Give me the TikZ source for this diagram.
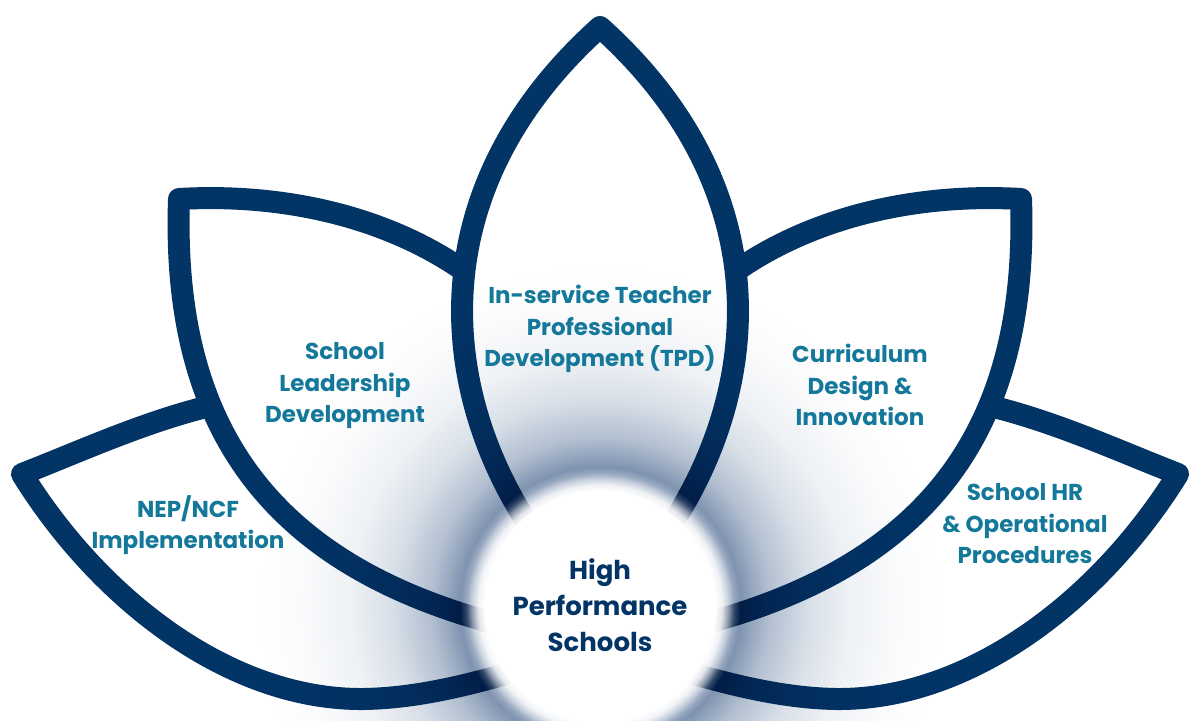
\documentclass[tikz,border=0pt]{standalone}
\usepackage{fontspec}
\setmainfont{Poppins}
\definecolor{navy}{HTML}{033466}
\definecolor{petalink}{HTML}{14789B}
\definecolor{glowA}{HTML}{7F93B0}
\definecolor{glowB}{HTML}{B3C0D1}
\definecolor{glowC}{HTML}{D9E0E8}
\definecolor{glowD}{HTML}{EEF1F5}
\definecolor{glowE}{HTML}{FAFBFC}
\definecolor{haloA}{HTML}{E0E0E0}
\definecolor{haloB}{HTML}{909090}
\definecolor{haloC}{HTML}{303030}
%glow round the core, 1bp = 36pt on a circle of radius 900
\pgfdeclareradialshading{lotusglow}{\pgfpoint{0bp}{0bp}}{color(0bp)=(glowA); color(3.89bp)=(glowA); color(4.72bp)=(glowB); color(5.83bp)=(glowC); color(6.94bp)=(glowD); color(8.33bp)=(glowE); color(9.58bp)=(white); color(25bp)=(white)}
\pgfdeclareradialshading{lotushalo}{\pgfpoint{0bp}{0bp}}{color(0bp)=(white); color(3.19bp)=(white); color(3.39bp)=(haloA); color(3.56bp)=(haloB); color(3.72bp)=(haloC); color(3.89bp)=(black); color(25bp)=(black)}
\tikzset{
    petal/.style={
    fill=white,
    draw=navy,
    line width=22pt,
    line join=round,
    },
    petaltxt/.style={text=petalink, font=\bfseries\fontsize{23}{31.5}\selectfont, align=center},
    coretxt/.style={circle, fill=white, minimum size=230pt, inner sep=0pt, text=navy, font=\bfseries\fontsize{26}{36}\selectfont, align=center},
}
\begin{document}
\begin{tikzpicture}[x=1pt, y=-1pt]
\useasboundingbox (0,0) rectangle (1190,720);
\draw[petal] (600,645) .. controls (520,670) and (440,698) .. (363,699) .. controls (230,700) and (100,600) .. (22,474) .. controls (110,440) and (220,385) .. (330,395) .. controls (450,410) and (560,520) .. (600,645) -- cycle; % petal NEP
\draw[petal] (600,645) .. controls (680,670) and (760,698) .. (837,699) .. controls (970,700) and (1100,600) .. (1178,474) .. controls (1090,440) and (980,385) .. (870,395) .. controls (750,410) and (640,520) .. (600,645) -- cycle; % petal HR
\draw[petal] (600,645) .. controls (300,600) and (170,460) .. (179,199) .. controls (300,192) and (420,225) .. (500,300) .. controls (560,360) and (600,500) .. (600,645) -- cycle; % petal leadership
\draw[petal] (600,645) .. controls (900,600) and (1030,460) .. (1021,199) .. controls (900,192) and (780,225) .. (700,300) .. controls (640,360) and (600,500) .. (600,645) -- cycle; % petal curriculum
\draw[petal] (600,610) .. controls (450,470) and (385,220) .. (600,27) .. controls (815,220) and (750,470) .. (600,610) -- cycle; % petal TPD
\begin{scope}[blend mode=multiply]
\shade[shading=lotusglow] (600,607) circle[radius=900]; % glow
\end{scope}
\begin{scope}[blend mode=screen]
\shade[shading=lotushalo] (600,607) circle[radius=900]; % halo
\end{scope}
\node[coretxt] (core) at (600,605) {High\\Performance\\Schools};
\node[petaltxt] (tpd) at (600,329) {In-service Teacher\\Professional\\Development (TPD)};
\node[petaltxt] (lead) at (345,386) {School\\Leadership\\Development};
\node[petaltxt] (curr) at (860,385) {Curriculum\\Design \&\\Innovation};
\node[petaltxt] (nep) at (188,525) {NEP/NCF\\Implementation};
\node[petaltxt] (hr) at (1025,524) {School HR\\\& Operational\\Procedures};
\end{tikzpicture}
\end{document}
